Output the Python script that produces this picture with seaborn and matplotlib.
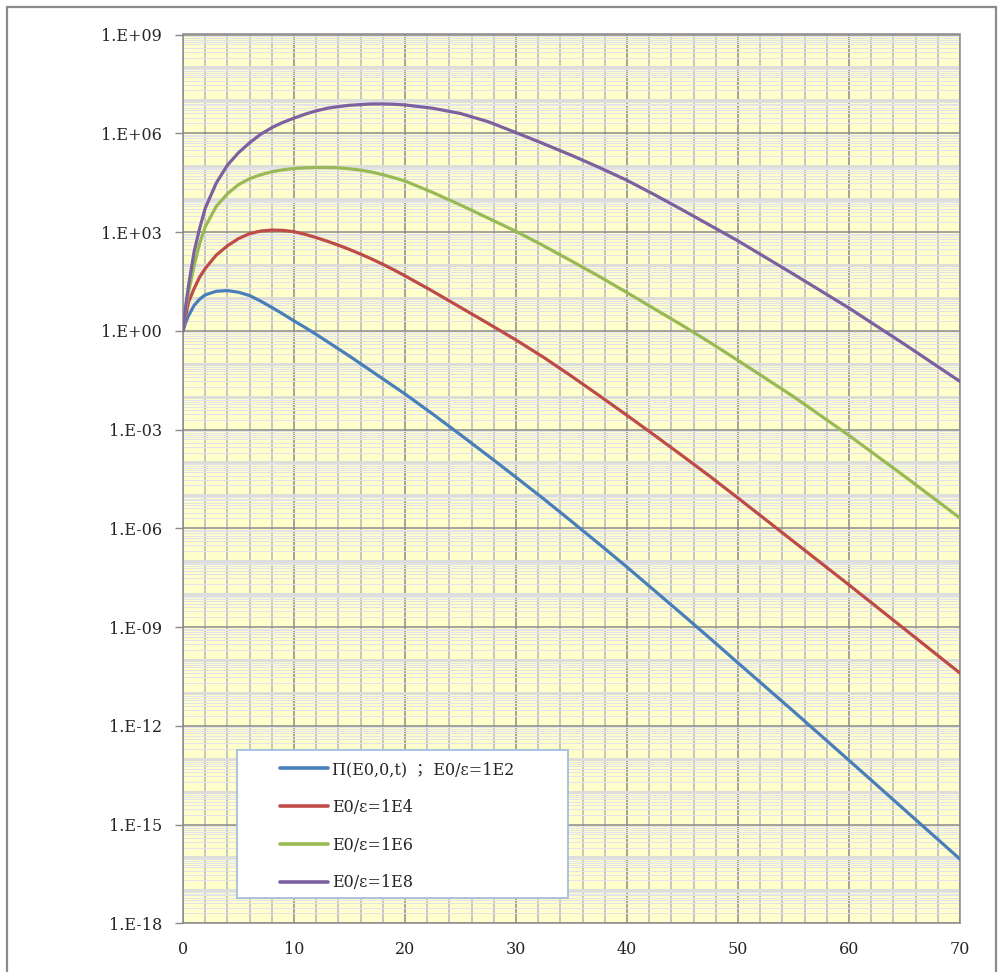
import numpy as np
import pandas as pd
import matplotlib
matplotlib.use("Agg")
import matplotlib.pyplot as plt
import seaborn as sns
from matplotlib.ticker import FixedLocator, MultipleLocator, LogLocator, NullFormatter
from matplotlib.patches import Rectangle
from matplotlib.font_manager import FontProperties

# depth t (radiation lengths)
t = [0, 0.25, 0.5, 1, 1.5, 2, 3, 4, 5, 6, 7, 8, 9, 10, 11, 12, 13, 14, 15, 16,
     17, 18, 19, 20, 22.5, 25, 27.5, 30, 32.5, 35, 37.5, 40, 42.5, 45, 47.5, 50,
     55, 60, 65, 70]

# log10 of Pi(E0,0,t)
log_e2 = [0, 0.26, 0.46, 0.77, 0.96, 1.09, 1.2, 1.22, 1.17, 1.07, 0.9, 0.71, 0.51, 0.3,
          0.1, -0.11, -0.33, -0.55, -0.77, -1.0, -1.23, -1.46, -1.69, -1.92,
          -2.53, -3.16, -3.8, -4.45, -5.11, -5.79, -6.48, -7.18, -7.9, -8.62, -9.35, -10.09,
          -11.56, -13.05, -14.55, -16.05]
log_e4 = [0, 0.46, 0.87, 1.28, 1.63, 1.89, 2.3, 2.58, 2.8, 2.95, 3.03, 3.06, 3.05, 3.01,
          2.93, 2.83, 2.72, 2.6, 2.47, 2.33, 2.18, 2.02, 1.85, 1.67,
          1.2, 0.71, 0.22, -0.28, -0.81, -1.38, -1.97, -2.57, -3.18, -3.8, -4.43, -5.08,
          -6.4, -7.72, -9.06, -10.4]
log_e6 = [0, 0.66, 1.17, 1.98, 2.65, 3.16, 3.78, 4.16, 4.44, 4.62, 4.74, 4.83, 4.89, 4.93,
          4.95, 4.96, 4.96, 4.95, 4.92, 4.88, 4.82, 4.74, 4.65, 4.55,
          4.2, 3.82, 3.42, 3.02, 2.58, 2.12, 1.65, 1.16, 0.66, 0.16, -0.36, -0.9,
          -2.0, -3.18, -4.42, -5.69]
log_e8 = [0, 0.77, 1.38, 2.4, 3.11, 3.72, 4.49, 5.03, 5.41, 5.71, 5.97, 6.17, 6.33, 6.46,
          6.58, 6.68, 6.76, 6.81, 6.85, 6.87, 6.89, 6.89, 6.88, 6.86,
          6.76, 6.6, 6.35, 6.02, 5.68, 5.33, 4.96, 4.57, 4.13, 3.67, 3.2, 2.73,
          1.72, 0.69, -0.41, -1.54]

labels = ["Π(E0,0,t) ； E0/ε=1E2", "E0/ε=1E4", "E0/ε=1E6", "E0/ε=1E8"]
colors = ["#4A7EBB", "#BE4B48", "#98B954", "#7D60A0"]

y_exps = [9, 6, 3, 0, -3, -6, -9, -12, -15, -18]
y_ticklabels = ["1.E+09", "1.E+06", "1.E+03", "1.E+00", "1.E-03",
                "1.E-06", "1.E-09", "1.E-12", "1.E-15", "1.E-18"]

rows = []
for lab, vals in zip(labels, [log_e2, log_e4, log_e6, log_e8]):
    for tt, v in zip(t, vals):
        rows.append({"t": tt, "Pi": 10.0 ** v, "series": lab})
df = pd.DataFrame(rows)

sns.set_style("white")
plt.rcParams["font.family"] = ["DejaVu Serif", "Noto Sans CJK JP"]

fig = plt.figure(figsize=(9.98, 9.72), dpi=100)
ax = fig.add_axes([183 / 998, 1 - 923.3 / 972, (960 - 183) / 998, (923.3 - 34.5) / 972])
ax.set_facecolor("#FFFFCC")

sns.lineplot(data=df, x="t", y="Pi", hue="series", hue_order=labels,
             palette=colors, linewidth=2.3, ax=ax, sort=False, zorder=3)

ax.set_yscale("log")
ax.set_xlim(0, 70)
ax.set_ylim(1e-18, 1e9)

# x grid
ax.xaxis.set_major_locator(MultipleLocator(10))
ax.xaxis.set_minor_locator(MultipleLocator(2))
ax.grid(which="major", axis="x", color="#8A8A8A", lw=1.1, zorder=1)
ax.grid(which="minor", axis="x", color="#C2C2C2", lw=1.3, zorder=0.8)

# y grid
ax.yaxis.set_major_locator(FixedLocator([10.0 ** e for e in y_exps]))
ax.set_yticklabels(y_ticklabels)
ax.yaxis.set_minor_locator(LogLocator(base=10, subs=np.arange(2, 10), numticks=200))
ax.yaxis.set_minor_formatter(NullFormatter())
ax.grid(which="major", axis="y", color="#8A8A8A", lw=1.1, zorder=1)
ax.grid(which="minor", axis="y", color="#E2E2EC", lw=0.7, zorder=0.5)
for e in range(-18, 10):
    if e % 3:
        ax.axhline(10.0 ** e, color="#DCDCDC", lw=2.0, zorder=0.6)
ax.set_axisbelow(True)

ax.tick_params(axis="y", which="major", length=6, width=1, color="#8A8A8A",
               pad=9, labelsize=11.5, direction="out", left=True)
ax.tick_params(axis="y", which="minor", length=0)
ax.tick_params(axis="x", which="both", length=0, pad=13, labelsize=11.5)
for s in ax.spines.values():
    s.set_color("#8A8A8A")
    s.set_linewidth(1.1)
ax.set_xlabel("")
ax.set_ylabel("")

# legend
handles, labs = ax.get_legend_handles_labels()
leg = ax.legend(handles, labs, loc="upper left",
                bbox_to_anchor=(272 / 998, 1 - 753 / 972), bbox_transform=fig.transFigure,
                frameon=False, borderpad=0, handlelength=3.0, handletextpad=0.25,
                labelspacing=1.3, prop=FontProperties(family=["DejaVu Serif", "Noto Sans CJK JP"], size=11.5))
leg.set_zorder(7)
for h in leg.get_lines():
    h.set_linewidth(2.6)
box = Rectangle((237 / 998, 1 - 898 / 972), 331 / 998, 148 / 972, transform=fig.transFigure,
                facecolor="white", edgecolor="#9DB9DD", lw=1.2, zorder=6)
ax.add_patch(box)
box.set_clip_on(False)

# outer frame
fig.patches.append(Rectangle((7 / 998, -0.05), 989 / 998, 1.05 - 7 / 972,
                             transform=fig.transFigure, fill=False,
                             edgecolor="#8C8C8C", lw=1.6))

fig.savefig("out.png", dpi=100)
